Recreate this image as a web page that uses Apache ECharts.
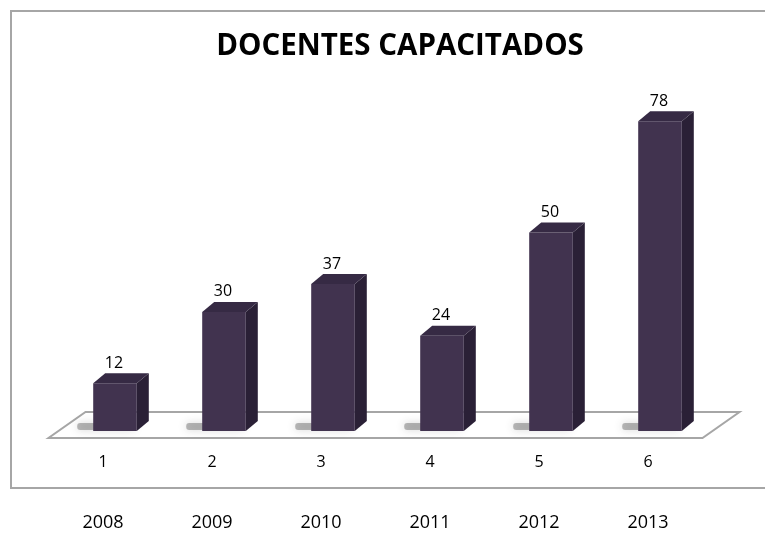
<!DOCTYPE html>
<html>
<head>
<meta charset="utf-8">
<style>
  html, body { margin: 0; padding: 0; background: #fff; }
  #chart { width: 765px; height: 535px; }
</style>
<script src="https://cdn.jsdelivr.net/npm/echarts@6/dist/echarts.min.js"></script>
</head>
<body>
<div id="chart"></div>
<script>
const categories = ['1', '2', '3', '4', '5', '6'];
const years = ['2008', '2009', '2010', '2011', '2012', '2013'];
const values = [12, 30, 37, 24, 50, 78];

const chart = echarts.init(document.getElementById('chart'));

// 3D offsets for the bar depth
const DX = 12;
const DY = -10;

function renderFloor(params, api) {
  const first = api.coord([0, 0]);
  const last = api.coord([categories.length - 1, 0]);
  const band = api.size([1, 0])[0];
  const left = first[0] - band / 2;
  const right = last[0] + band / 2;
  const y = first[1];
  return {
    type: 'polygon',
    shape: {
      points: [
        [left + 25, y - 19],
        [right + 25, y - 19],
        [right - 12, y + 7],
        [left - 12, y + 7]
      ]
    },
    style: { fill: '#fff', stroke: '#a6a6a6', lineWidth: 2 }
  };
}

function renderBar(params, api) {
  const idx = api.value(0);
  const val = api.value(1);
  const base = api.coord([idx, 0]);
  const top = api.coord([idx, val]);
  const w = api.size([1, 0])[0] * 0.4;
  const x0 = base[0] - w / 2;
  const x1 = base[0] + w / 2;
  const yb = base[1];
  const yt = top[1];
  return {
    type: 'group',
    children: [
      {
        type: 'rect',
        shape: { x: x0 - 16, y: yb - 8, width: w + 14, height: 7, r: 3 },
        style: {
          fill: 'rgba(60,60,60,0.35)',
          shadowBlur: 8,
          shadowColor: 'rgba(60,60,60,0.6)'
        }
      },
      {
        type: 'polygon',
        shape: { points: [[x1, yt], [x1 + DX, yt + DY], [x1 + DX, yb + DY], [x1, yb]] },
        style: { fill: '#2a2036' }
      },
      {
        type: 'rect',
        shape: { x: x0, y: yt, width: w, height: yb - yt },
        style: { fill: '#41334f' }
      },
      {
        type: 'polygon',
        shape: { points: [[x0, yt], [x0 + DX, yt + DY], [x1 + DX, yt + DY], [x1, yt]] },
        style: { fill: '#362a44' }
      },
      {
        type: 'text',
        x: base[0] - 1,
        y: yt + DY - 10,
        style: {
          text: String(val),
          align: 'center',
          verticalAlign: 'middle',
          font: '16px "Open Sans"',
          fill: '#000'
        }
      }
    ]
  };
}

const option = {
  animation: false,
  title: {
    text: 'DOCENTES CAPACITADOS',
    left: 395,
    top: 27,
    textAlign: 'center',
    textStyle: {
      fontFamily: 'Open Sans',
      fontWeight: 'bold',
      fontSize: 29.5,
      color: '#000'
    }
  },
  graphic: [
    {
      type: 'rect',
      shape: { x: 11, y: 11, width: 820, height: 477 },
      style: { fill: 'none', stroke: '#a6a6a6', lineWidth: 2 },
      z: -1
    }
  ],
  grid: {
    left: 60.5,
    right: 50.5,
    top: 113.4,
    bottom: 104
  },
  xAxis: [
    {
      type: 'category',
      data: categories,
      axisLine: { show: false },
      axisTick: { show: false },
      axisLabel: {
        fontFamily: 'Open Sans',
        fontSize: 16,
        color: '#000',
        margin: 23,
        padding: [0, 24, 0, 0]
      }
    },
    {
      type: 'category',
      data: years,
      position: 'bottom',
      offset: 60,
      axisLine: { show: false },
      axisTick: { show: false },
      axisLabel: {
        fontFamily: 'Open Sans',
        fontSize: 18,
        color: '#000',
        margin: 23,
        padding: [0, 24, 0, 0]
      }
    }
  ],
  yAxis: {
    type: 'value',
    min: 0,
    max: 80,
    show: false
  },
  series: [
    {
      type: 'custom',
      renderItem: renderFloor,
      data: [[0, 0]],
      z: 1,
      silent: true
    },
    {
      type: 'custom',
      renderItem: renderBar,
      data: values.map((v, i) => [i, v]),
      z: 2
    }
  ]
};

chart.setOption(option);
</script>
</body>
</html>
